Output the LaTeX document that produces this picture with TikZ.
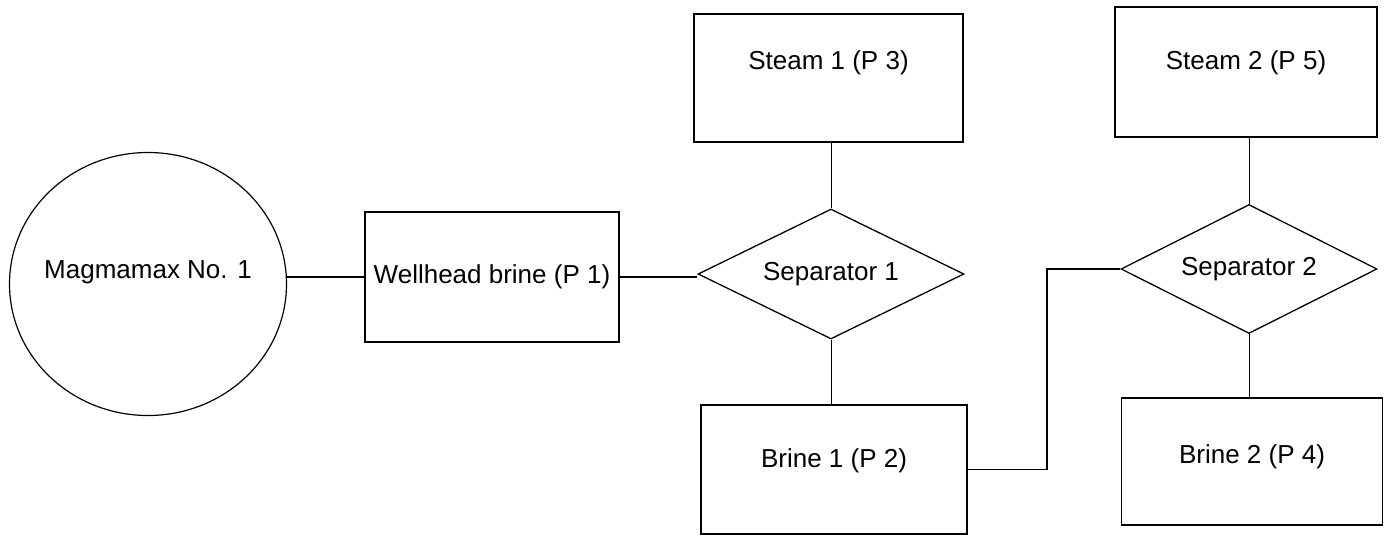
\documentclass[tikz,border=0pt]{standalone}
\usepackage{fontspec}
\setmainfont{Liberation Sans}
\usetikzlibrary{shapes.geometric}
\begin{document}
\begin{tikzpicture}[x=1pt,y=-1pt,
  lbl/.style={font=\fontsize{26}{30}\selectfont, inner sep=0pt},
  box/.style={draw, rectangle, inner sep=0pt, line width=1.4pt},
  wellshape/.style={draw, ellipse, inner sep=0pt, line width=1.2pt, minimum width=277pt, minimum height=263pt},
  sepshape/.style={draw, diamond, inner sep=0pt, line width=1.3pt},
  hlink/.style={line width=1.5pt},
  vlink/.style={line width=0.8pt}]
\useasboundingbox (0,0) rectangle (1393,541);

\node[wellshape, label={[lbl, yshift=12pt]center:Magmamax No. 1}] (mag) at (148,284) {};
\node[box, minimum width=254pt, minimum height=130pt, label={[lbl]center:Wellhead brine (P 1)}] (wh) at (492,277) {};
\node[sepshape, minimum width=266pt, minimum height=130pt, label={[lbl]center:Separator 1}] (sep1) at (831,274) {};
\node[box, minimum width=269pt, minimum height=128pt, label={[lbl, yshift=15pt]center:Steam 1 (P 3)}] (st1) at (828.5,78) {};
\node[box, minimum width=266pt, minimum height=129pt, label={[lbl, yshift=9pt]center:Brine 1 (P 2)}] (br1) at (834,469.5) {};
\node[sepshape, minimum width=256pt, minimum height=129pt, label={[lbl]center:Separator 2}] (sep2) at (1249,269) {};
\node[box, minimum width=262pt, minimum height=130pt, label={[lbl, yshift=9pt]center:Steam 2 (P 5)}] (st2) at (1246,72) {};
\node[box, minimum width=261pt, minimum height=127pt, label={[lbl, yshift=5pt]center:Brine 2 (P 4)}] (br2) at (1252,461.5) {};

\coordinate (bend) at (1047,360);

\draw[hlink] (mag.east |- wh.west) -- (wh.west);
\draw[hlink] (wh.east) -- (wh.east -| sep1.west);
\draw[vlink] (st1.south -| sep1.north) -- (sep1.north);
\draw[vlink] (sep1.south) -- (sep1.south |- br1.north);
\draw[hlink] (br1.east) -| (bend) |- (sep2.west);
\draw[vlink] (st2.south -| sep2.north) -- (sep2.north);
\draw[vlink] (sep2.south) -- (sep2.south |- br2.north);
\end{tikzpicture}
\end{document}
